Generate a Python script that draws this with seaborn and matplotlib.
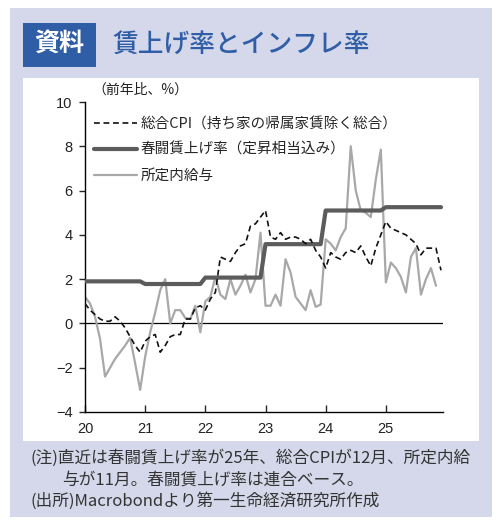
import numpy as np
import matplotlib
matplotlib.use("Agg")
import matplotlib.pyplot as plt
from matplotlib.patches import Rectangle
from matplotlib.lines import Line2D
import seaborn as sns
import pandas as pd

# ---------------------------------------------------
# Data (monthly, Jan 2020 = 0)
# ---------------------------------------------------
year_labels = ["20", "21", "22", "23", "24", "25"]

# 総合CPI (持ち家の帰属家賃除く総合), Jan 2020 - Dec 2025
cpi = [0.9, 0.6, 0.4, 0.2, 0.1, 0.1, 0.3, 0.1, -0.2, -0.6, -1.0, -1.3,
       -0.8, -0.6, -0.5, -1.3, -1.0, -0.6, -0.5, -0.5, 0.2, 0.2, 0.7, 0.8,
       0.6, 1.1, 1.4, 3.0, 2.9, 2.8, 3.2, 3.5, 3.6, 4.4, 4.5, 4.8,
       5.1, 3.9, 3.8, 4.1, 3.8, 3.9, 3.9, 3.8, 3.6, 3.8, 3.3, 3.0,
       2.5, 3.2, 3.0, 2.9, 3.2, 3.3, 3.2, 3.5, 3.0, 2.6, 3.4, 4.0,
       4.6, 4.3, 4.2, 4.1, 4.0, 3.8, 3.6, 3.1, 3.4, 3.4, 3.4, 2.4]

# 春闘賃上げ率 (連合), 2020 - 2025
shunto_year = [1.90, 1.78, 2.07, 3.58, 5.10, 5.25]

# 所定内給与, Jan 2020 - Nov 2025
wage = [1.2, 0.9, 0.3, -0.7, -2.4, -2.0, -1.6, -1.3, -1.0, -0.65, -1.8, -3.0,
        -1.5, -0.4, 0.5, 1.5, 2.0, 0.0, 0.6, 0.6, 0.25, 0.2, 0.8, -0.4,
        1.0, 1.2, 2.1, 1.3, 1.1, 2.0, 1.3, 1.7, 2.2, 1.4, 2.0, 4.1,
        0.8, 0.8, 1.3, 0.8, 2.9, 2.3, 1.2, 0.9, 0.6, 1.5, 0.75, 0.85,
        3.8, 3.6, 3.3, 3.9, 4.3, 8.0, 6.0, 5.1, 5.0, 4.8, 6.5, 7.85,
        1.85, 2.75, 2.5, 2.1, 1.4, 3.0, 3.4, 1.3, 2.0, 2.5, 1.7]

cpi_df = pd.DataFrame({"month": np.arange(len(cpi)), "value": cpi})
wage_df = pd.DataFrame({"month": np.arange(len(wage)), "value": wage})
shunto_df = pd.DataFrame({"month": np.arange(72),
                          "value": np.repeat(shunto_year, 12)})

# ---------------------------------------------------
# Style
# ---------------------------------------------------
sns.set_style("white")
plt.rcParams["font.family"] = ["Noto Sans CJK JP", "DejaVu Sans"]
plt.rcParams["axes.unicode_minus"] = True

W, H = 499, 527
fig = plt.figure(figsize=(W / 100, H / 100), dpi=100)
fig.patch.set_facecolor("white")


def box(x0, y0, x1, y1, color):
    # pixel box (top-left origin) -> figure rectangle
    fig.patches.append(Rectangle((x0 / W, 1 - y1 / H), (x1 - x0) / W, (y1 - y0) / H,
                                 transform=fig.transFigure, facecolor=color,
                                 edgecolor="none", zorder=-5))


box(10, 8, 492, 517, "#d5d8ea")
box(23, 23, 96, 67, "#2f5ea6")
box(23, 78, 479, 441, "white")

fig.text(59.5 / W, 1 - 45 / H, "資料", color="white", fontsize=18,
         fontweight="bold", ha="center", va="center")
fig.text(112 / W, 1 - 45 / H, "賃上げ率とインフレ率", color="#2f5ea6",
         fontsize=18.5, fontweight="medium", ha="left", va="center")

# ---------------------------------------------------
# Chart
# ---------------------------------------------------
ax = fig.add_axes([85 / W, 1 - 412 / H, (443 - 85) / W, (412 - 102) / H])
ax.set_facecolor("none")
ax.set_zorder(5)

sns.lineplot(data=shunto_df, x="month", y="value", ax=ax, color="#5c5c5c",
             linewidth=3.0, zorder=3)
sns.lineplot(data=wage_df, x="month", y="value", ax=ax, color="#a8a8a8",
             linewidth=1.6, zorder=2)
sns.lineplot(data=cpi_df, x="month", y="value", ax=ax, color="#111111",
             linewidth=1.2, linestyle=(0, (3.5, 2.2)), zorder=4)
ax.axhline(0, color="black", linewidth=0.9, zorder=1)

ax.set_xlim(0, 71.4)
ax.set_ylim(-4, 10)
ax.set_yticks(range(-4, 11, 2))
ax.set_xticks(range(0, 72, 12))
ax.set_xticklabels(year_labels)
ax.set_xlabel("")
ax.set_ylabel("")

for s in ["top", "right"]:
    ax.spines[s].set_visible(False)
for s in ["left", "bottom"]:
    ax.spines[s].set_color("black")
    ax.spines[s].set_linewidth(1.0)

ax.tick_params(axis="y", direction="out", length=4, width=1.0, labelsize=10.5,
               pad=5, left=True)
ax.tick_params(axis="x", direction="in", length=5, width=1.0, labelsize=10.5,
               pad=7, bottom=True)
for lab in ax.get_xticklabels() + ax.get_yticklabels():
    lab.set_family(["Liberation Sans", "DejaVu Sans"])
    lab.set_color("#222222")

fig.text(92 / W, 1 - 90 / H, "（前年比、%）", fontsize=10, color="#222222",
         ha="left", va="center")

handles = [
    Line2D([], [], color="#111111", linewidth=1.2, linestyle=(0, (3.5, 2.2))),
    Line2D([], [], color="#5c5c5c", linewidth=3.0),
    Line2D([], [], color="#a8a8a8", linewidth=1.6),
]
labels = ["総合CPI（持ち家の帰属家賃除く総合）",
          "春闘賃上げ率（定昇相当込み）",
          "所定内給与"]
ax.legend(handles, labels, loc="upper left", bbox_to_anchor=(0.01, 0.97),
          frameon=False, fontsize=10.5, handlelength=2.9, handletextpad=0.25,
          labelspacing=0.8, borderaxespad=0)

# ---------------------------------------------------
# Notes
# ---------------------------------------------------
note_kw = dict(fontsize=12, color="#333333", ha="left", va="center")
fig.text(30 / W, 1 - 458 / H, "(注)直近は春闘賃上げ率が25年、総合CPIが12月、所定内給", **note_kw)
fig.text(62 / W, 1 - 480 / H, "与が11月。春闘賃上げ率は連合ベース。", **note_kw)
fig.text(30 / W, 1 - 501 / H, "(出所)Macrobondより第一生命経済研究所作成", **note_kw)

fig.savefig("out.png", dpi=100, facecolor="white")
